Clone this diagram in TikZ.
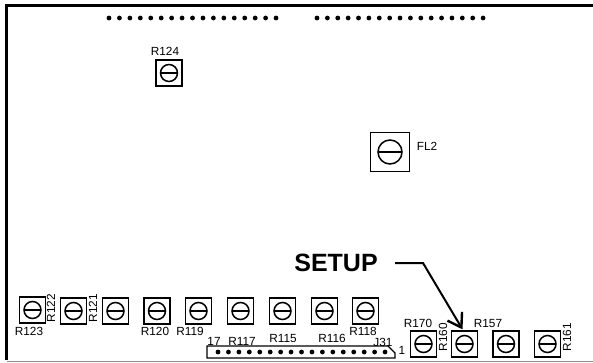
\documentclass[tikz,border=0pt]{standalone}
\usepackage{fontspec}
\setmainfont{Liberation Sans}
\usetikzlibrary{arrows.meta,positioning}
\tikzset{
  trimbox/.style={draw, line width=1.3pt, minimum size=26pt, inner sep=0pt},
  bigbox/.style={draw, line width=1.3pt, minimum size=39pt, inner sep=0pt},
  partlabel/.style={font=\fontsize{11.8}{13}\selectfont, inner sep=0pt},
  sidelabel/.style={partlabel, rotate=90},
  setuplabel/.style={font=\fontsize{25}{27}\selectfont\bfseries, inner sep=0pt},
  slot/.style={line width=2.4pt},
  screw/.style={line width=1.5pt},
  setuparrow/.style={line width=2pt, -{Straight Barb[length=13pt,width=17pt,line width=2.4pt]}}
}
\begin{document}
\begin{tikzpicture}[x=1pt,y=-1pt]
    \useasboundingbox (0,0) rectangle (593,362);

    % Board outline
    \draw[line width=3pt] (593,5.5) -- (6.5,5.5) -- (6.5,360);
    \draw[line width=1pt, black!45] (6.5,361) -- (593,361);

    % Pin rows along the top edge
    \foreach \i in {0,...,16} {
        \fill ({109+\i*10.44},18) circle (2.4pt);
        \fill ({317+\i*10.38},18) circle (2.4pt);
    }

    % Trimmers
    \foreach \n/\x/\y in {r123/32.5/310,r122/73.5/311,r121/115.5/311,r120/157/311,r119/198.5/311,
        r117/240.5/311,r115/282.5/311,r116/324.5/311,r118/365.5/311,
        r170/423.5/344,r160/464.5/344,r157/506/344,r161/547.5/344,r124/169/73} {
        \node[trimbox] (\n) at (\x,\y) {};
        \draw[screw] (\n.center) circle (8.5pt);
        \draw[slot] ([xshift=-8.5pt]\n.center) -- ([xshift=8.5pt]\n.center);
    }

    % Filter
    \node[bigbox] (fl2) at (390,152) {};
    \draw[screw] (fl2.center) circle (12pt);
    \draw[line width=1.8pt] ([xshift=-12pt]fl2.center) -- ([xshift=12pt]fl2.center);

    % Connector J31
    \draw[line width=1.3pt] (207,346) -- (388,346) -- (395,353) -- (395,358) -- (207,358) -- cycle;
    \foreach \i in {0,...,16} {
        \fill ({218+\i*10.44},352) circle (2.4pt);
    }

    % Part labels
    \node[partlabel] (lr124) at (165,51) {R124};
    \node[partlabel] (lfl2) at (427,146) {FL2};
    \node[partlabel] (lr123) at (29,331) {R123};
    \node[sidelabel] (lr122) at (51,308) {R122};
    \node[sidelabel] (lr121) at (93,308) {R121};
    \node[partlabel] (lr120) at (155,331) {R120};
    \node[partlabel] (lr119) at (190,331) {R119};
    \node[partlabel] (l17) at (214,341) {17};
    \node[partlabel] (lr117) at (242,341) {R117};
    \node[partlabel] (lr115) at (283,338) {R115};
    \node[partlabel] (lr116) at (332,338) {R116};
    \node[partlabel] (lr118) at (363,331) {R118};
    \node[partlabel] (lj31) at (383,342) {J31};
    \node[partlabel] (l1) at (402,350) {1};
    \node[partlabel] (lr170) at (418,323) {R170};
    \node[sidelabel] (lr160) at (443,337) {R160};
    \node[partlabel] (lr157) at (488,323) {R157};
    \node[sidelabel] (lr161) at (567,337) {R161};

    % Setup callout
    \node[setuplabel] (setup) at (336,263) {SETUP};
    \coordinate (setupstart) at (395,263);
    \coordinate (setupbend) at (423,263);
    \draw[setuparrow] (setupstart) -- (setupbend) -- ([xshift=-2pt,yshift=1pt]r160.north);
\end{tikzpicture}
\end{document}
